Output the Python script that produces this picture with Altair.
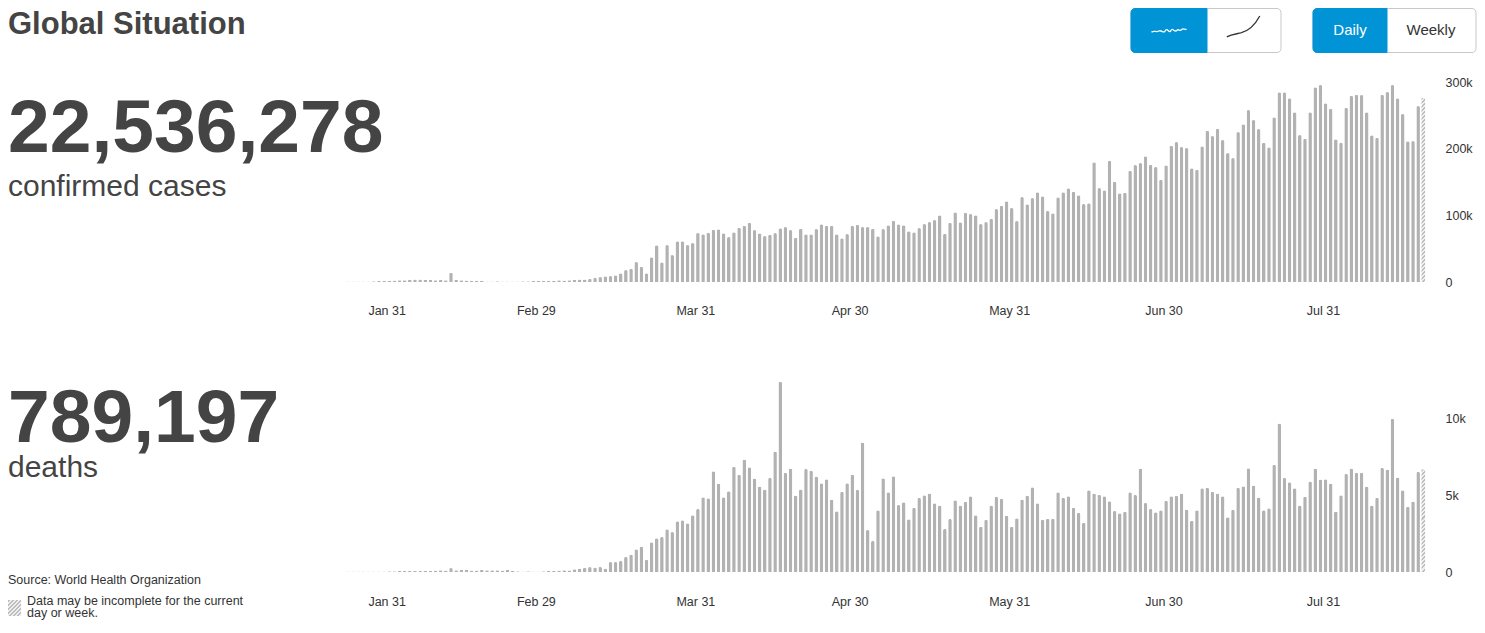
import altair as alt
import pandas as pd

FONT = "Liberation Sans, Arial, Helvetica, sans-serif"
INK = "#444444"
BAR = "#b2b2b2"
BLUE = "#0093d5"

# ---- daily new confirmed cases, 23 Jan -> 19 Aug 2020 ----
cases_jan = [600, 600, 700, 900, 900, 1300, 1500, 1800, 2000]
cases_feb = [2100, 2600, 2800, 3200, 3900, 3700, 3200, 3400, 2700, 3000, 2500, 14000, 3500, 2600,
             2100, 2000, 1900, 1800, 600, 900, 1000, 600, 800, 700, 900, 1200, 1300, 1800, 1900]
cases_mar = [2000, 1900, 1800, 2500, 2400, 2800, 3500, 3900, 3800, 4500, 6500, 7500, 8500, 9000,
             10000, 13000, 18000, 20000, 30000, 23000, 13000, 37000, 55000, 29500, 55500, 40500,
             61000, 61000, 55500, 58500, 73500]
cases_apr = [71500, 74000, 78500, 79000, 73000, 67500, 74500, 81500, 84500, 89000, 78000, 73000,
             69000, 71000, 73500, 80500, 82500, 78000, 66500, 80000, 71500, 71500, 79500, 86500,
             84500, 84500, 71500, 65500, 72000, 84500]
cases_may = [86000, 82500, 82500, 80000, 68500, 79500, 85000, 92000, 86500, 85000, 76000, 74500,
             81000, 87000, 90000, 93000, 100000, 72500, 89000, 104500, 89500, 104000, 102000,
             100000, 87000, 90000, 95000, 109500, 114500, 121000, 111000]
cases_jun = [91500, 127500, 116500, 126000, 134500, 128500, 106500, 103000, 127000, 134500, 140500,
             135500, 130000, 117000, 118000, 179500, 141000, 137500, 182000, 150500, 133000,
             134000, 167000, 175500, 178500, 188500, 176000, 172500, 153500, 175000]
cases_jul = [204500, 210000, 202500, 201000, 170500, 168500, 203500, 227000, 219000, 230000, 213000,
             193500, 186000, 225000, 236500, 258000, 243000, 229500, 209000, 202000, 247000,
             284500, 284500, 275500, 254500, 220500, 215000, 254500, 292000, 295500, 268000]
cases_aug = [260000, 214000, 209000, 261500, 279500, 281000, 280500, 254500, 220000, 216500,
             281000, 285000, 295500, 275500, 252000, 211000, 211500, 264000, 276000]

# ---- daily new deaths ----
deaths_jan = [25, 25, 25, 30, 30, 40, 40, 40, 45]
deaths_feb = [45, 57, 64, 66, 73, 73, 86, 89, 97, 108, 97, 254, 121, 143, 142, 105, 98, 136, 115,
              118, 109, 97, 150, 71, 52, 29, 44, 37, 35]
deaths_mar = [42, 60, 80, 95, 107, 100, 180, 230, 270, 320, 300, 330, 220, 650, 650, 720, 980, 1130,
              1480, 1650, 800, 1930, 2190, 2280, 2780, 2600, 3300, 3360, 3170, 3690, 4100]
deaths_apr = [4860, 4800, 6550, 5750, 4860, 5250, 6840, 6320, 7310, 6810, 6080, 5560, 5360, 6120,
              7830, 12370, 6450, 6730, 4970, 5360, 6700, 6580, 6210, 5770, 6030, 4710, 3950, 5210,
              5770, 6340]
deaths_may = [5340, 8420, 2730, 2020, 4020, 6100, 5190, 6230, 4360, 4540, 3430, 4170, 4820, 4990,
              5100, 4470, 4320, 2800, 3450, 4670, 4320, 4560, 4930, 3690, 2950, 3390, 4320, 4900,
              4770, 3670, 2950]
deaths_jun = [3490, 4710, 4970, 5510, 4470, 3390, 3470, 3470, 5190, 4820, 4930, 4170, 3860, 3210,
              5320, 5100, 5030, 4930, 4600, 3970, 3820, 3910, 5190, 5010, 6730, 4490, 4100, 3880,
              4020, 4640]
deaths_jul = [4930, 4950, 5100, 4060, 3340, 4020, 5450, 5470, 5210, 5100, 4930, 3560, 4040, 5470,
              5580, 6750, 5620, 4840, 4020, 4150, 6970, 9660, 6120, 5840, 5450, 4320, 4900, 5880,
              6730, 6010, 6030]
deaths_aug = [5750, 3930, 4990, 6380, 6730, 6450, 6450, 5560, 4320, 4820, 6770, 6660, 9960, 6140,
              5320, 4250, 4580, 6510, 6660]

total_cases = "22,536,278"
total_deaths = "789,197"
tick_dates = [(1, 31), (2, 29), (3, 31), (4, 30), (5, 31), (6, 30), (7, 31)]
cases_ticks = [0, 100000, 200000, 300000]
deaths_ticks = [0, 5000, 10000]

cases = cases_jan + cases_feb + cases_mar + cases_apr + cases_may + cases_jun + cases_jul + cases_aug
deaths = (deaths_jan + deaths_feb + deaths_mar + deaths_apr + deaths_may + deaths_jun
          + deaths_jul + deaths_aug)
dates = pd.date_range("2020-01-23", "2020-08-19", freq="D")
assert len(dates) == len(cases) == len(deaths)

df = pd.DataFrame({
    "date": [d.strftime("%Y-%m-%dT12:00:00") for d in dates],
    "cases": cases,
    "deaths": deaths,
    "partial": [False] * (len(dates) - 1) + [True],
})
one = pd.DataFrame({"k": [0]})

W = 1423
H_TOP, H_BOT = 274, 240
CASES_MAX, DEATHS_MAX = 411000, 15605


def hatch(w, h, period=4.0, dark="#bdbdbd", light="#efefef"):
    lam = (w + h) / (w * w + h * h)
    n = max(1, round((w + h) / period))
    stops = []
    for i in range(n):
        a, m, b = i / n, (i + 0.5) / n, (i + 1) / n
        stops += [{"offset": a, "color": dark}, {"offset": m, "color": dark},
                  {"offset": m, "color": light}, {"offset": b, "color": light}]
    return {"gradient": "linear", "x1": 0, "y1": 0, "x2": lam * w, "y2": lam * h, "stops": stops}


def x_enc(pad):
    return alt.X(
        "date:T",
        scale=alt.Scale(domain=[alt.DateTime(year=2019, month=11, date=18, hours=9, minutes=29),
                                alt.DateTime(year=2020, month=8, date=21)],
                        nice=False, padding=0),
        axis=alt.Axis(values=[alt.DateTime(year=2020, month=m, date=d) for m, d in tick_dates],
                      format="%b %d", title=None, ticks=False, domain=False, grid=False,
                      labelPadding=pad, labelOverlap=False, labelFlush=False),
    )


def y_enc(field, dmax, ticks):
    return alt.Y(
        f"{field}:Q",
        scale=alt.Scale(domain=[0, dmax], nice=False),
        axis=alt.Axis(orient="right", values=ticks, title=None, ticks=False,
                      labelExpr="datum.value == 0 ? '0' : format(datum.value, '~s')",
                      domain=False, grid=False, labelPadding=14, labelFlush=False,
                      labelOverlap=False),
    )


def bars(field, dmax, ticks, pad, hatch_h):
    xe, ye = x_enc(pad), y_enc(field, dmax, ticks)
    solid = alt.Chart(df).transform_filter("!datum.partial").mark_bar(
        color=BAR, size=3.6, cornerRadiusTopLeft=1.8, cornerRadiusTopRight=1.8
    ).encode(x=xe, y=ye)
    part = alt.Chart(df).transform_filter("datum.partial").mark_bar(
        color=hatch(3.6, hatch_h), size=3.6
    ).encode(x=xe, y=ye)
    return [solid, part]


def text(t, x, y, size, weight="normal", color=INK, align="left"):
    return alt.Chart(one).mark_text(
        text=t, align=align, baseline="alphabetic", font=FONT, fontSize=size,
        fontWeight=weight, color=color
    ).encode(x=alt.value(x), y=alt.value(y))


def rect(x, x2, y, y2, **kw):
    return alt.Chart(one).mark_rect(**kw).encode(
        x=alt.value(x), x2=alt.value(x2), y=alt.value(y), y2=alt.value(y2))


WAVE = ("M-1,0.12 C-0.85,0.02 -0.72,0.14 -0.58,0.06 C-0.45,-0.02 -0.38,0.16 -0.25,0.1 "
        "C-0.1,-0.22 0,0.22 0.1,0.05 C0.2,-0.2 0.32,0.18 0.45,0.02 C0.55,-0.1 0.62,0.12 0.72,-0.02 "
        "C0.82,-0.14 0.9,0.02 1,-0.06")
CURVE = "M-1,0.62 C-0.7,0.45 -0.45,0.45 -0.15,0.38 C0.35,0.25 0.7,-0.1 1,-0.65"


def icon(path, x, y, size, color):
    return alt.Chart(one).mark_point(
        shape=path, size=size, filled=False, stroke=color, color=color, strokeWidth=1.3, opacity=1
    ).encode(x=alt.value(x), y=alt.value(y))


header = [
    text("Global Situation", 0, 25.5, 31, "bold"),
    rect(1123, 1273, 0.5, 44.5, fill="white", stroke="#c8c8c8", strokeWidth=1, cornerRadius=4),
    rect(1123, 1199, 0.5, 44.5, fill=BLUE, stroke=BLUE, strokeWidth=1,
         cornerRadiusTopLeft=4, cornerRadiusBottomLeft=4),
    icon(WAVE, 1161, 22, 1225, "white"),
    icon(CURVE, 1235.3, 18.7, 1089, "#333333"),
    rect(1305, 1468, 0.5, 44.5, fill="white", stroke="#c8c8c8", strokeWidth=1, cornerRadius=4),
    rect(1305, 1379, 0.5, 44.5, fill=BLUE, stroke=BLUE, strokeWidth=1,
         cornerRadiusTopLeft=4, cornerRadiusBottomLeft=4),
    text("Daily", 1342, 26.5, 15, color="white", align="center"),
    text("Weekly", 1423, 26.5, 15, color="#333333", align="center"),
]

top = alt.layer(
    *bars("cases", CASES_MAX, cases_ticks, 22, 184),
    *header,
    text(total_cases, 0, 144, 75, "bold"),
    text("confirmed cases", 0, 187.5, 30),
).properties(width=W, height=H_TOP)

legend_sq = alt.Chart(one).mark_rect(color=hatch(13, 16)).encode(
    x=alt.value(0), x2=alt.value(13), y=alt.value(268), y2=alt.value(284))

bottom = alt.layer(
    *bars("deaths", DEATHS_MAX, deaths_ticks, 23, 102.4),
    text(total_deaths, 0, 109.7, 75, "bold"),
    text("deaths", 0, 145, 30),
    text("Source: World Health Organization", 0, 251.5, 12.5, color="#333333"),
    legend_sq,
    text("Data may be incomplete for the current", 19, 272.5, 12.5, color="#333333"),
    text("day or week.", 19, 285.3, 12.5, color="#333333"),
).properties(width=W, height=H_BOT)

chart = alt.vconcat(top, bottom, spacing=50, bounds="flush").properties(
    padding=0
).configure_view(strokeWidth=0).configure_axis(
    labelFont=FONT, labelFontSize=12.5, labelColor="#333333"
)

chart.save("out.html", embed_options={"renderer": "svg", "actions": False})
